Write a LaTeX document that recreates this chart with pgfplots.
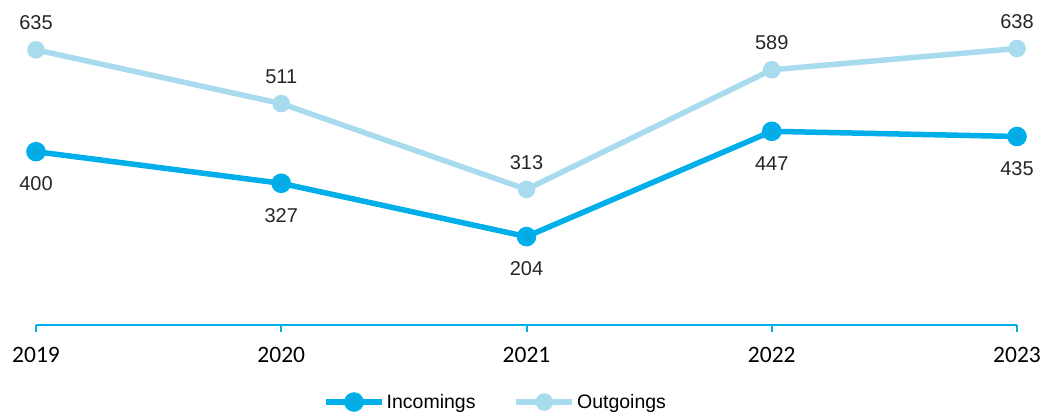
\documentclass[border=0pt]{standalone}
\usepackage{fontspec}
\setmainfont{Liberation Sans}
\newfontfamily\calibri{Carlito}
\usepackage{pgfplots}
\pgfplotsset{compat=1.18}
\definecolor{incol}{HTML}{00AEEA}
\definecolor{inmark}{HTML}{0AA8E0}
\definecolor{outcol}{HTML}{A8DBEE}
\begin{document}
\begin{tikzpicture}
\begin{axis}[
    scale only axis,
    width=981pt,
    height=325pt,
    xmin=0, xmax=4,
    ymin=0, ymax=750,
    axis x line*=bottom,
    axis y line=none,
    x axis line style={incol, line width=2pt},
    xtick={0,1,2,3,4},
    xticklabels={2019,2020,2021,2022,2023},
    tick align=outside,
    major tick length=7pt,
    x tick style={incol, line width=2pt},
    xticklabel style={font=\calibri\fontsize{23.5}{23.5}\selectfont, text=black, yshift=-12pt},
    ytick=\empty,
    clip=false,
    /pgf/number format/assume math mode=true,
    nodes near coords,
    every node near coord/.append style={font=\fontsize{20}{20}\selectfont, text=black!85},
    legend columns=-1,
    legend style={draw=none, fill=none, at={(0.2895,-0.237)}, anchor=west,
        font=\fontsize{19.5}{20}\selectfont, column sep=0pt,
        /tikz/every even column/.append style={column sep=36pt}},
    legend cell align=left,
    legend image code/.code={
        \draw[mark repeat=2, mark phase=2, #1] plot coordinates {(0pt,0pt) (28pt,0pt) (56pt,0pt)};
    },
]
\addplot[incol, line width=5.5pt, mark=*, mark size=7pt, mark options={solid, fill=inmark, draw=none},
    every node near coord/.append style={anchor=north, yshift=-19pt}]
    coordinates {(0,400) (1,327) (2,204) (3,447) (4,435)};
\addlegendentry{Incomings}
\addplot[outcol, line width=5.5pt, mark=*, mark size=6pt, mark options={solid, fill=outcol, draw=none},
    every node near coord/.append style={anchor=south, yshift=14pt}]
    coordinates {(0,635) (1,511) (2,313) (3,589) (4,638)};
\addlegendentry{Outgoings}
\end{axis}
\pgfresetboundingbox
\path (-36pt,-87pt) rectangle (1006pt,325pt);
\end{tikzpicture}
\end{document}
